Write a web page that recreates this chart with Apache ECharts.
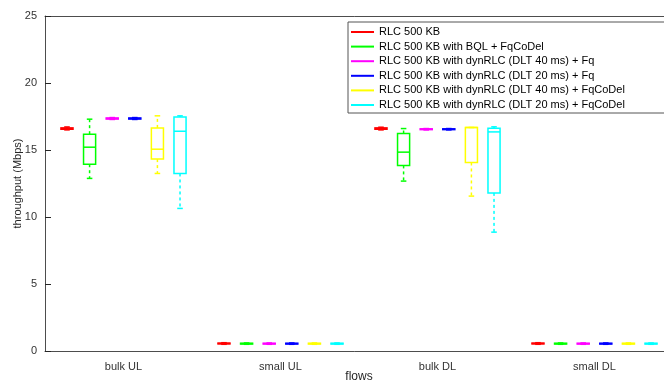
<!DOCTYPE html>
<html>
<head>
<meta charset="utf-8">
<script src="https://cdn.jsdelivr.net/npm/echarts@6/dist/echarts.min.js"></script>
<style>
  html, body { margin: 0; padding: 0; background: #fff; }
  #chart { width: 664px; height: 387px; }
</style>
</head>
<body>
<div id="chart"></div>
<script>
// flows on the x axis
var categories = ['bulk UL', 'small UL', 'bulk DL', 'small DL'];
var seriesNames = [
  'RLC 500 KB',
  'RLC 500 KB with BQL + FqCoDel',
  'RLC 500 KB with dynRLC (DLT 40 ms) + Fq',
  'RLC 500 KB with dynRLC (DLT 20 ms) + Fq',
  'RLC 500 KB with dynRLC (DLT 40 ms) + FqCoDel',
  'RLC 500 KB with dynRLC (DLT 20 ms) + FqCoDel'
];
var colors = ['#ff0000', '#00ff00', '#ff00ff', '#0000ff', '#ffff00', '#00ffff'];
var yTicks = [0, 5, 10, 15, 20, 25];

// [min, q1, median, q3, max] per flow, throughput in Mbps
var rlc500 = [
  [16.5, 16.55, 16.6, 16.65, 16.72],
  [0.5, 0.53, 0.56, 0.59, 0.62],
  [16.5, 16.55, 16.6, 16.65, 16.7],
  [0.5, 0.53, 0.56, 0.59, 0.62]
];
var bqlFqCoDel = [
  [12.88, 13.94, 15.21, 16.18, 17.3],
  [0.5, 0.52, 0.55, 0.58, 0.6],
  [12.68, 13.85, 14.84, 16.23, 16.6],
  [0.5, 0.52, 0.55, 0.58, 0.6]
];
var dlt40Fq = [
  [17.28, 17.31, 17.35, 17.39, 17.42],
  [0.5, 0.52, 0.55, 0.58, 0.6],
  [16.5, 16.52, 16.55, 16.58, 16.6],
  [0.5, 0.52, 0.55, 0.58, 0.6]
];
var dlt20Fq = [
  [17.28, 17.31, 17.35, 17.39, 17.42],
  [0.5, 0.52, 0.55, 0.58, 0.6],
  [16.5, 16.52, 16.55, 16.58, 16.6],
  [0.5, 0.52, 0.55, 0.58, 0.6]
];
var dlt40FqCoDel = [
  [13.25, 14.32, 15.06, 16.65, 17.55],
  [0.5, 0.52, 0.55, 0.58, 0.6],
  [11.56, 14.07, 16.68, 16.68, 16.68],
  [0.5, 0.52, 0.55, 0.58, 0.6]
];
var dlt20FqCoDel = [
  [10.64, 13.25, 16.4, 17.47, 17.55],
  [0.5, 0.52, 0.55, 0.58, 0.6],
  [8.87, 11.8, 16.35, 16.63, 16.73],
  [0.5, 0.52, 0.55, 0.58, 0.6]
];
var allSeries = [rlc500, bqlFqCoDel, dlt40Fq, dlt20Fq, dlt40FqCoDel, dlt20FqCoDel];

// box offsets inside a category band (fraction of band width)
var offsets = [-0.36, -0.216, -0.072, 0.072, 0.216, 0.36];
var boxFrac = 0.077;

var FONT = "'Liberation Sans', Arial, Helvetica, sans-serif";

function makeRender(idx) {
  var color = colors[idx];
  return function (params, api) {
    var cat = api.value(0);
    var band = api.size([1, 0])[0];
    var cx = api.coord([cat, 0])[0] + offsets[idx] * band;
    var w = boxFrac * band;
    var yMin = api.coord([cat, api.value(1)])[1];
    var yQ1 = api.coord([cat, api.value(2)])[1];
    var yMed = api.coord([cat, api.value(3)])[1];
    var yQ3 = api.coord([cat, api.value(4)])[1];
    var yMax = api.coord([cat, api.value(5)])[1];
    var solid = { stroke: color, lineWidth: 1.5, fill: null };
    var dashed = { stroke: color, lineWidth: 1.5, lineDash: [3, 3], fill: null };
    var cap = w * 0.23;
    return {
      type: 'group',
      children: [
        { type: 'line', shape: { x1: cx, y1: yQ3, x2: cx, y2: yMax }, style: dashed },
        { type: 'line', shape: { x1: cx, y1: yQ1, x2: cx, y2: yMin }, style: dashed },
        { type: 'line', shape: { x1: cx - cap, y1: yMax, x2: cx + cap, y2: yMax }, style: solid },
        { type: 'line', shape: { x1: cx - cap, y1: yMin, x2: cx + cap, y2: yMin }, style: solid },
        { type: 'rect', shape: { x: cx - w / 2, y: yQ3, width: w, height: Math.max(yQ1 - yQ3, 0.5) }, style: solid },
        { type: 'line', shape: { x1: cx - w / 2, y1: yMed, x2: cx + w / 2, y2: yMed }, style: solid }
      ]
    };
  };
}

var series = allSeries.map(function (vals, i) {
  return {
    name: seriesNames[i],
    type: 'custom',
    renderItem: makeRender(i),
    itemStyle: { color: colors[i] },
    encode: { x: 0, y: [1, 2, 3, 4, 5] },
    data: vals.map(function (v, c) { return [c].concat(v); })
  };
});

var axisColor = '#4d4d4d';
var chart = echarts.init(document.getElementById('chart'));
chart.setOption({
  animation: false,
  textStyle: { fontFamily: FONT },
  grid: { left: 45, top: 16, bottom: 36, right: -9, containLabel: false, outerBoundsMode: 'none' },
  legend: {
    orient: 'vertical',
    left: 348,
    top: 22,
    padding: [3, 40, 1, 3],
    itemGap: 0.6,
    itemWidth: 23,
    itemHeight: 2,
    icon: 'rect',
    backgroundColor: '#fff',
    borderColor: '#555',
    borderWidth: 1,
    borderRadius: 0,
    textStyle: { fontFamily: FONT, fontSize: 11, color: '#000', lineHeight: 14 },
    data: seriesNames
  },
  xAxis: [{
    type: 'category',
    data: categories,
    boundaryGap: true,
    name: 'flows',
    nameLocation: 'middle',
    nameGap: 20,
    nameMoveOverlap: false,
    nameTextStyle: { fontFamily: FONT, fontSize: 12, color: '#262626' },
    axisLine: { lineStyle: { color: axisColor, width: 1 } },
    axisTick: { alignWithLabel: true, inside: true, length: 6, lineStyle: { color: '#262626' } },
    axisLabel: { fontFamily: FONT, fontSize: 11, color: '#333', margin: 10 },
    splitLine: { show: false }
  }, {
    type: 'category',
    position: 'top',
    data: categories,
    boundaryGap: true,
    axisLine: { lineStyle: { color: axisColor, width: 1 } },
    axisTick: { alignWithLabel: true, inside: true, length: 6, lineStyle: { color: '#262626' } },
    axisLabel: { show: false },
    splitLine: { show: false }
  }],
  yAxis: {
    type: 'value',
    min: yTicks[0],
    max: yTicks[yTicks.length - 1],
    interval: 5,
    name: 'throughput (Mbps)',
    nameLocation: 'middle',
    nameGap: 22,
    nameMoveOverlap: false,
    nameTextStyle: { fontFamily: FONT, fontSize: 11, color: '#262626' },
    axisLine: { show: true, lineStyle: { color: axisColor, width: 1 } },
    axisTick: { show: true, inside: true, length: 6, lineStyle: { color: '#262626' } },
    axisLabel: { fontFamily: FONT, fontSize: 11, color: '#333', margin: 8 },
    splitLine: { show: false }
  },
  series: series
});
</script>
</body>
</html>
